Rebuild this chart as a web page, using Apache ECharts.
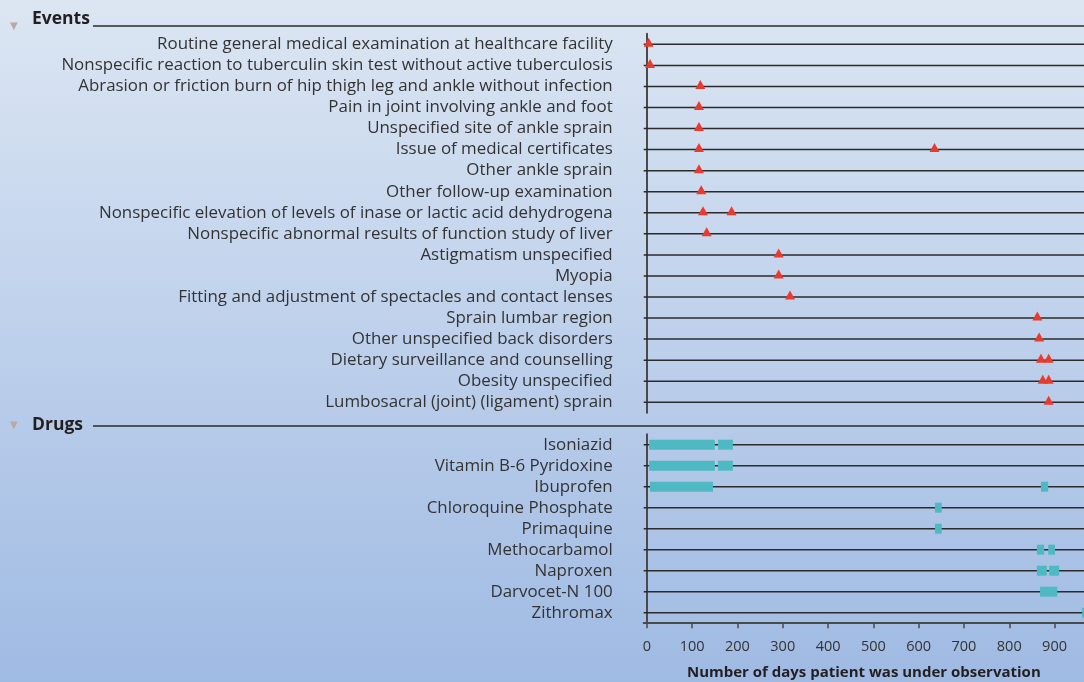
<!DOCTYPE html>
<html>
<head>
<meta charset="utf-8">
<script src="https://cdn.jsdelivr.net/npm/echarts@6/dist/echarts.min.js"></script>
<style>
html,body{margin:0;padding:0;}
#chart{width:1084px;height:682px;}
</style>
</head>
<body>
<div id="chart"></div>
<script>
var eventCategories = [
  'Routine general medical examination at healthcare facility',
  'Nonspecific reaction to tuberculin skin test without active tuberculosis',
  'Abrasion or friction burn of hip thigh leg and ankle without infection',
  'Pain in joint involving ankle and foot',
  'Unspecified site of ankle sprain',
  'Issue of medical certificates',
  'Other ankle sprain',
  'Other follow-up examination',
  'Nonspecific elevation of levels of inase or lactic acid dehydrogena',
  'Nonspecific abnormal results of function study of liver',
  'Astigmatism unspecified',
  'Myopia',
  'Fitting and adjustment of spectacles and contact lenses',
  'Sprain lumbar region',
  'Other unspecified back disorders',
  'Dietary surveillance and counselling',
  'Obesity unspecified',
  'Lumbosacral (joint) (ligament) sprain'
];
// days on which each event occurred (one list per event row)
var eventDays = [
  [4], [7], [118], [115], [115], [115, 635], [115], [120], [124, 187], [132],
  [291], [291], [316], [862], [866], [870, 887], [874, 887], [887]
];
var drugCategories = [
  'Isoniazid', 'Vitamin B-6 Pyridoxine', 'Ibuprofen', 'Chloroquine Phosphate',
  'Primaquine', 'Methocarbamol', 'Naproxen', 'Darvocet-N 100', 'Zithromax'
];
// [start day, end day] periods for each drug row
var drugPeriods = [
  [[5, 150], [157, 190]],
  [[5, 150], [157, 190]],
  [[7, 146], [870, 886]],
  [[636, 651]],
  [[636, 651]],
  [[861, 877], [886, 901]],
  [[861, 883], [888, 910]],
  [[868, 906]],
  [[961, 990]]
];
var xTicks = [0, 100, 200, 300, 400, 500, 600, 700, 800, 900];
var xMin = -7, xMax = 965;

var FONT = '"Open Sans", "Noto Sans", sans-serif';
var LINE = '#2b2b2b';

var eventData = [];
eventDays.forEach(function (days, i) { days.forEach(function (d) { eventData.push([d, i]); }); });
var drugData = [];
drugPeriods.forEach(function (ps, i) { ps.forEach(function (p) { drugData.push([i, p[0], p[1]]); }); });

function rowLine(params, api) {
  var y = api.coord([0, api.value(0)])[1];
  var cs = params.coordSys;
  return { type: 'line', shape: { x1: cs.x, y1: y, x2: cs.x + cs.width, y2: y },
    style: { stroke: LINE, lineWidth: 1.5 } };
}
function drugBar(params, api) {
  var row = api.value(0);
  var s = api.coord([api.value(1), row]);
  var e = api.coord([api.value(2), row]);
  var cs = params.coordSys;
  var rect = echarts.graphic.clipRectByRect({ x: s[0], y: s[1] - 5, width: e[0] - s[0], height: 10 },
    { x: cs.x, y: cs.y, width: cs.width, height: cs.height });
  return rect && { type: 'rect', shape: rect, style: { fill: '#4fb9c3' } };
}

var yAxisCommon = {
  type: 'category', inverse: true,
  axisLine: { show: true, lineStyle: { color: '#4a4a4a', width: 2 } },
  axisTick: { show: false },
  axisLabel: { interval: 0, margin: 31, padding: [3, 0, 0, 0], fontFamily: FONT, fontSize: 16.9, color: '#333' },
  splitLine: { show: false }
};

var option = {
  backgroundColor: { type: 'linear', x: 0, y: 0, x2: 0, y2: 1,
    colorStops: [{ offset: 0, color: '#dce6f3' }, { offset: 1, color: '#9fbae3' }] },
  animation: false,
  grid: [
    { left: 643.7, right: 0, top: 33.8, height: 379 },
    { left: 643.7, right: 0, top: 434.2, height: 189 }
  ],
  xAxis: [
    { gridIndex: 0, type: 'value', min: xMin, max: xMax, show: false, splitLine: { show: false } },
    { gridIndex: 1, type: 'value', min: xMin, max: xMax,
      axisLine: { show: true, lineStyle: { color: '#4a4a4a', width: 2 } },
      axisTick: { show: true, length: 5, lineStyle: { color: '#4a4a4a', width: 1.5 }, customValues: xTicks },
      axisLabel: { margin: 16, fontFamily: FONT, fontSize: 14.5, color: '#333', customValues: xTicks },
      splitLine: { show: false },
      name: 'Number of days patient was under observation', nameLocation: 'middle', nameGap: 42,
      nameTextStyle: { fontFamily: FONT, fontSize: 15, fontWeight: 'bold', color: '#231f20' } }
  ],
  yAxis: [
    Object.assign({ gridIndex: 0, data: eventCategories }, yAxisCommon),
    Object.assign({ gridIndex: 1, data: drugCategories }, yAxisCommon)
  ],
  graphic: [
    { type: 'text', left: 10, top: 21.5, style: { text: '\u25BC', fontSize: 10, fill: '#bba9a0', fontFamily: 'DejaVu Sans' } },
    { type: 'text', x: 32, y: 19.5, style: { text: 'Events', fontFamily: FONT, fontSize: 17.5, fontWeight: 'bold', fill: '#231f20', verticalAlign: 'middle' } },
    { type: 'line', shape: { x1: 93, y1: 26, x2: 1084, y2: 26 }, style: { stroke: LINE, lineWidth: 1.5 } },
    { type: 'text', left: 10, top: 420.5, style: { text: '\u25BC', fontSize: 10, fill: '#bba9a0', fontFamily: 'DejaVu Sans' } },
    { type: 'text', x: 32, y: 425, style: { text: 'Drugs', fontFamily: FONT, fontSize: 17.5, fontWeight: 'bold', fill: '#231f20', verticalAlign: 'middle' } },
    { type: 'line', shape: { x1: 93, y1: 426, x2: 1084, y2: 426 }, style: { stroke: LINE, lineWidth: 1.5 } }
  ],
  series: [
    { type: 'custom', xAxisIndex: 0, yAxisIndex: 0, renderItem: rowLine, silent: true,
      data: eventCategories.map(function (c, i) { return [i]; }), encode: { y: 0 }, z: 1 },
    { type: 'custom', xAxisIndex: 1, yAxisIndex: 1, renderItem: rowLine, silent: true,
      data: drugCategories.map(function (c, i) { return [i]; }), encode: { y: 0 }, z: 1 },
    { type: 'scatter', xAxisIndex: 0, yAxisIndex: 0, data: eventData, symbol: 'triangle',
      symbolSize: [10, 9], symbolOffset: [0, -2], itemStyle: { color: '#ea3a2d', opacity: 1 }, z: 3 },
    { type: 'custom', xAxisIndex: 1, yAxisIndex: 1, renderItem: drugBar, data: drugData,
      encode: { x: [1, 2], y: 0 }, z: 3 }
  ]
};
var chart = echarts.init(document.getElementById('chart'), null, { renderer: 'canvas' });
chart.setOption(option);
</script>
</body>
</html>
